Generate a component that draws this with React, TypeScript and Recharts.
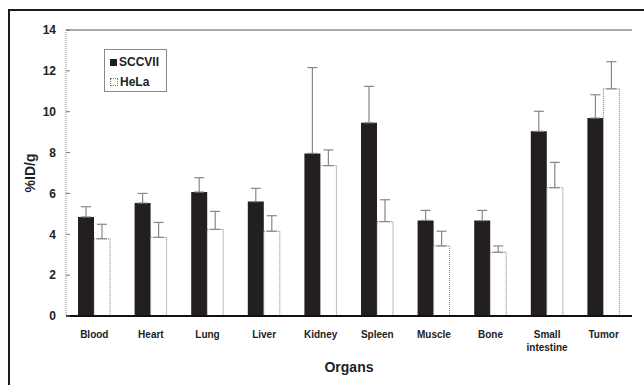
import React from 'react';
import {
  BarChart, Bar, XAxis, YAxis, ErrorBar, Legend, ReferenceLine, Label,
} from 'recharts';

const ORGANS = ['Blood', 'Heart', 'Lung', 'Liver', 'Kidney', 'Spleen', 'Muscle', 'Bone', 'Small\nintestine', 'Tumor'];
const SCCVII = [4.85, 5.53, 6.07, 5.6, 7.96, 9.46, 4.68, 4.67, 9.04, 9.69];
const SCCVII_SD = [0.5, 0.47, 0.7, 0.65, 4.2, 1.78, 0.49, 0.5, 0.98, 1.14];
const HELA = [3.78, 3.85, 4.24, 4.15, 7.36, 4.62, 3.43, 3.12, 6.28, 11.12];
const HELA_SD = [0.71, 0.73, 0.88, 0.76, 0.77, 1.07, 0.72, 0.31, 1.24, 1.33];
const Y_TICKS = [0, 2, 4, 6, 8, 10, 12, 14];

const FONT = '"Liberation Sans", Arial, sans-serif';

const data = ORGANS.map((organ, i) => ({
  organ,
  SCCVII: SCCVII[i],
  sccErr: [0, SCCVII_SD[i]],
  HeLa: HELA[i],
  helaErr: [0, HELA_SD[i]],
}));

// category labels, "Small intestine" wraps onto two lines
function OrganTick({ x, y, payload }: any) {
  const lines = String(payload.value).split('\n');
  return (
    <text x={x} y={y + 14} textAnchor="middle" fontFamily={FONT} fontSize={10} fontWeight="bold" fill="#222">
      {lines.map((l, i) => (
        <tspan key={i} x={x} dy={i === 0 ? 0 : 13}>{l}</tspan>
      ))}
    </text>
  );
}

function LegendBox() {
  return (
    <div style={{
      width: 61, height: 41, border: '1px solid #888', background: '#fff',
      fontFamily: FONT, fontSize: 12, fontWeight: 'bold', color: '#222', boxSizing: 'content-box',
    }}>
      <div style={{ display: 'flex', alignItems: 'center', marginTop: 5, marginLeft: 5 }}>
        <span style={{ width: 7, height: 7, background: '#231f20', marginRight: 2 }} />
        SCCVII
      </div>
      <div style={{ display: 'flex', alignItems: 'center', marginTop: 6, marginLeft: 5 }}>
        <span style={{ width: 6, height: 6, border: '1px dotted #777', marginRight: 2 }} />
        HeLa
      </div>
    </div>
  );
}

export default function App() {
  return (
    <div style={{ position: 'absolute', left: 0, top: 0, width: 644, height: 385, background: '#fff' }}>
      <div style={{
        position: 'absolute', left: 8, top: 9, width: 650, height: 390,
        borderTop: '2px solid #1a1a1a', borderLeft: '2px solid #1a1a1a',
      }} />
      <BarChart
        width={644}
        height={385}
        data={data}
        margin={{ top: 30, right: 12, bottom: 13, left: 26 }}
        barSize={16}
        barGap={0}
        style={{ position: 'absolute', left: 0, top: 0 }}
      >
        <XAxis
          dataKey="organ"
          height={56}
          interval={0}
          tick={<OrganTick />}
          tickLine={false}
          axisLine={{ stroke: '#111', strokeWidth: 2 }}
        >
          <Label value="Organs" position="insideBottom" offset={0}
            style={{ fontFamily: FONT, fontSize: 14, fontWeight: 'bold', fill: '#222' }} />
        </XAxis>
        <YAxis
          width={40}
          domain={[0, 14]}
          ticks={Y_TICKS}
          interval={0}
          tickSize={-4}
          tickMargin={14}
          tickLine={{ stroke: '#777' }}
          axisLine={{ stroke: '#888', strokeDasharray: '1 1' }}
          tick={{ fontFamily: FONT, fontSize: 12, fontWeight: 'bold', fill: '#222' }}
        >
          <Label
            content={({ viewBox }: any) => (
              <text
                x={viewBox.x + 4}
                y={viewBox.y + viewBox.height / 2}
                transform={`rotate(-90 ${viewBox.x + 4} ${viewBox.y + viewBox.height / 2})`}
                textAnchor="middle"
                dominantBaseline="central"
                fontFamily={FONT}
                fontSize={14}
                fontWeight="bold"
                fill="#222"
              >
                %ID/g
              </text>
            )}
          />
        </YAxis>
        <YAxis
          yAxisId="right"
          orientation="right"
          width={0}
          domain={[0, 14]}
          tick={false}
          tickLine={false}
          axisLine={{ stroke: '#888', strokeDasharray: '1 1' }}
        />
        <ReferenceLine y={14} stroke="#aaa" strokeWidth={2} />
        <Legend
          layout="vertical"
          align="center"
          verticalAlign="middle"
          content={<LegendBox />}
          wrapperStyle={{ position: 'absolute', left: 104, top: 49, width: 63 }}
        />
        <Bar dataKey="SCCVII" fill="#231f20" isAnimationActive={false}>
          <ErrorBar dataKey="sccErr" stroke="#888" strokeWidth={1.2} width={5} direction="y" />
        </Bar>
        <Bar dataKey="HeLa" fill="#fff" stroke="#777" strokeDasharray="1 1" isAnimationActive={false}>
          <ErrorBar dataKey="helaErr" stroke="#888" strokeWidth={1.2} width={5} direction="y" />
        </Bar>
      </BarChart>
    </div>
  );
}
